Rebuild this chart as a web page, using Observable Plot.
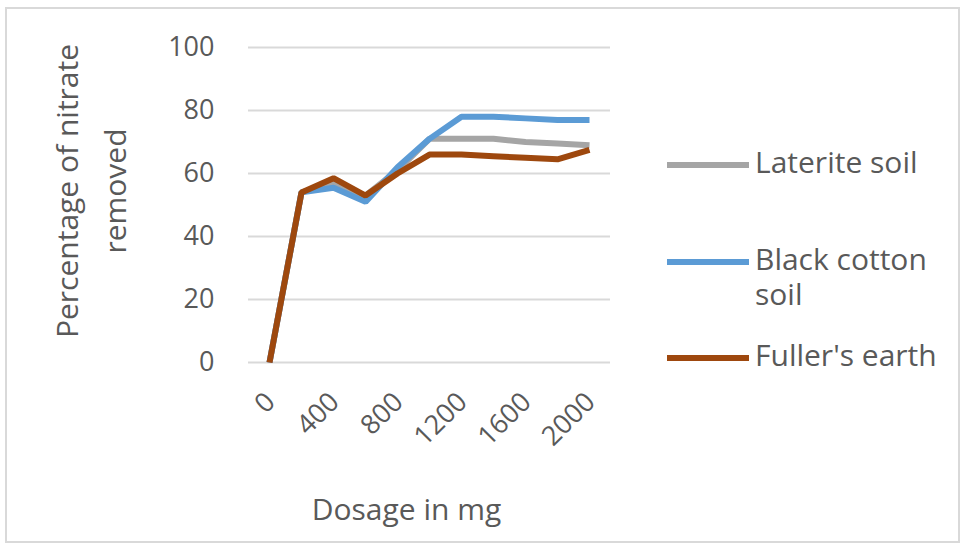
<!DOCTYPE html>
<html>
<head>
<meta charset="utf-8">
<script src="https://cdn.jsdelivr.net/npm/d3@7"></script>
<script src="https://cdn.jsdelivr.net/npm/@observablehq/plot@0.6"></script>
<style>
  html, body { margin: 0; padding: 0; background: #fff; }
  #chart { position: relative; width: 966px; height: 550px; }
  #frame { position: absolute; left: 5px; top: 7px; width: 955px; height: 536px;
           border: 2px solid #d9d9d9; box-sizing: border-box; pointer-events: none; }
  svg { font-family: "Open Sans", sans-serif; }
</style>
</head>
<body>
<div id="chart"><div id="frame"></div></div>
<script>
// Dosage of adsorbent (mg)
const dosages = [0, 200, 400, 600, 800, 1000, 1200, 1400, 1600, 1800, 2000];
const dosageTicks = [0, 400, 800, 1200, 1600, 2000];
const yTicks = [0, 20, 40, 60, 80, 100];

// Percentage of nitrate removed for each adsorbent
const laterite = [0, 54, 57, 53, 61, 71, 71, 71, 70, 69.5, 69];
const blackCotton = [0, 54, 55.5, 51, 62, 71, 78, 78, 77.5, 77, 77];
const fullers = [0, 54, 58.5, 53, 60, 66, 66, 65.5, 65, 64.5, 67.5];

const seriesNames = ["Laterite soil", "Black cotton soil", "Fuller's earth"];
const seriesColors = ["#a5a5a5", "#5b9bd5", "#9e480e"];
const seriesValues = [laterite, blackCotton, fullers];

const rows = seriesNames.flatMap((name, i) =>
  dosages.map((d, j) => ({series: name, dosage: d, value: seriesValues[i][j]}))
);

const textColor = "#595959";

const plot = Plot.plot({
  width: 966,
  height: 550,
  marginLeft: 248,
  marginRight: 356,
  marginTop: 47,
  marginBottom: 188,
  style: {fontFamily: "Open Sans, sans-serif", color: textColor, background: "transparent"},
  x: {type: "point", domain: dosages, padding: 0.5},
  y: {domain: [0, 100]},
  color: {domain: seriesNames, range: seriesColors},
  marks: [
    Plot.gridY(yTicks, {stroke: "#d9d9d9", strokeOpacity: 1, strokeWidth: 2}),
    Plot.axisY(yTicks, {tickSize: 0, tickPadding: 34, fontSize: 27, fill: textColor, label: null}),
    Plot.axisX(dosageTicks, {tickSize: 0, tickPadding: 35, tickRotate: -45, fontSize: 27,
      fill: textColor, label: null, dx: 1, tickFormat: (d) => String(d)}),
    Plot.line(rows, {x: "dosage", y: "value", z: "series", stroke: "series",
      strokeWidth: 6, strokeLinejoin: "miter", strokeLinecap: "butt"}),
    Plot.text(["Percentage of nitrate\nremoved"], {frameAnchor: "left", rotate: -90,
      textAnchor: "middle", lineAnchor: "middle",
      dx: -162, dy: -14, fontSize: 30, lineHeight: 1.6, fill: textColor}),
    Plot.text(["Dosage in mg"], {frameAnchor: "bottom", textAnchor: "middle", lineAnchor: "middle",
      dx: -23, dy: 148, fontSize: 30, fill: textColor})
  ]
});

// Legend on the right: a line swatch and a label for each series
const svg = d3.select(plot);
const legendRows = [
  {lines: ["Laterite soil"], y: 165},
  {lines: ["Black cotton", "soil"], y: 262},
  {lines: ["Fuller's earth"], y: 358}
];
legendRows.forEach((item, i) => {
  const g = svg.append("g");
  g.append("line")
    .attr("x1", 667).attr("x2", 749)
    .attr("y1", item.y).attr("y2", item.y)
    .attr("stroke", seriesColors[i]).attr("stroke-width", 6);
  const t = g.append("text")
    .attr("x", 755).attr("y", item.y)
    .attr("font-size", 30).attr("fill", textColor)
    .attr("text-anchor", "start")
    .attr("dominant-baseline", "middle");
  item.lines.forEach((s, k) => {
    t.append("tspan").attr("x", 755).attr("dy", k === 0 ? 0 : 35).text(s);
  });
});

document.getElementById("chart").prepend(plot);
</script>
</body>
</html>
